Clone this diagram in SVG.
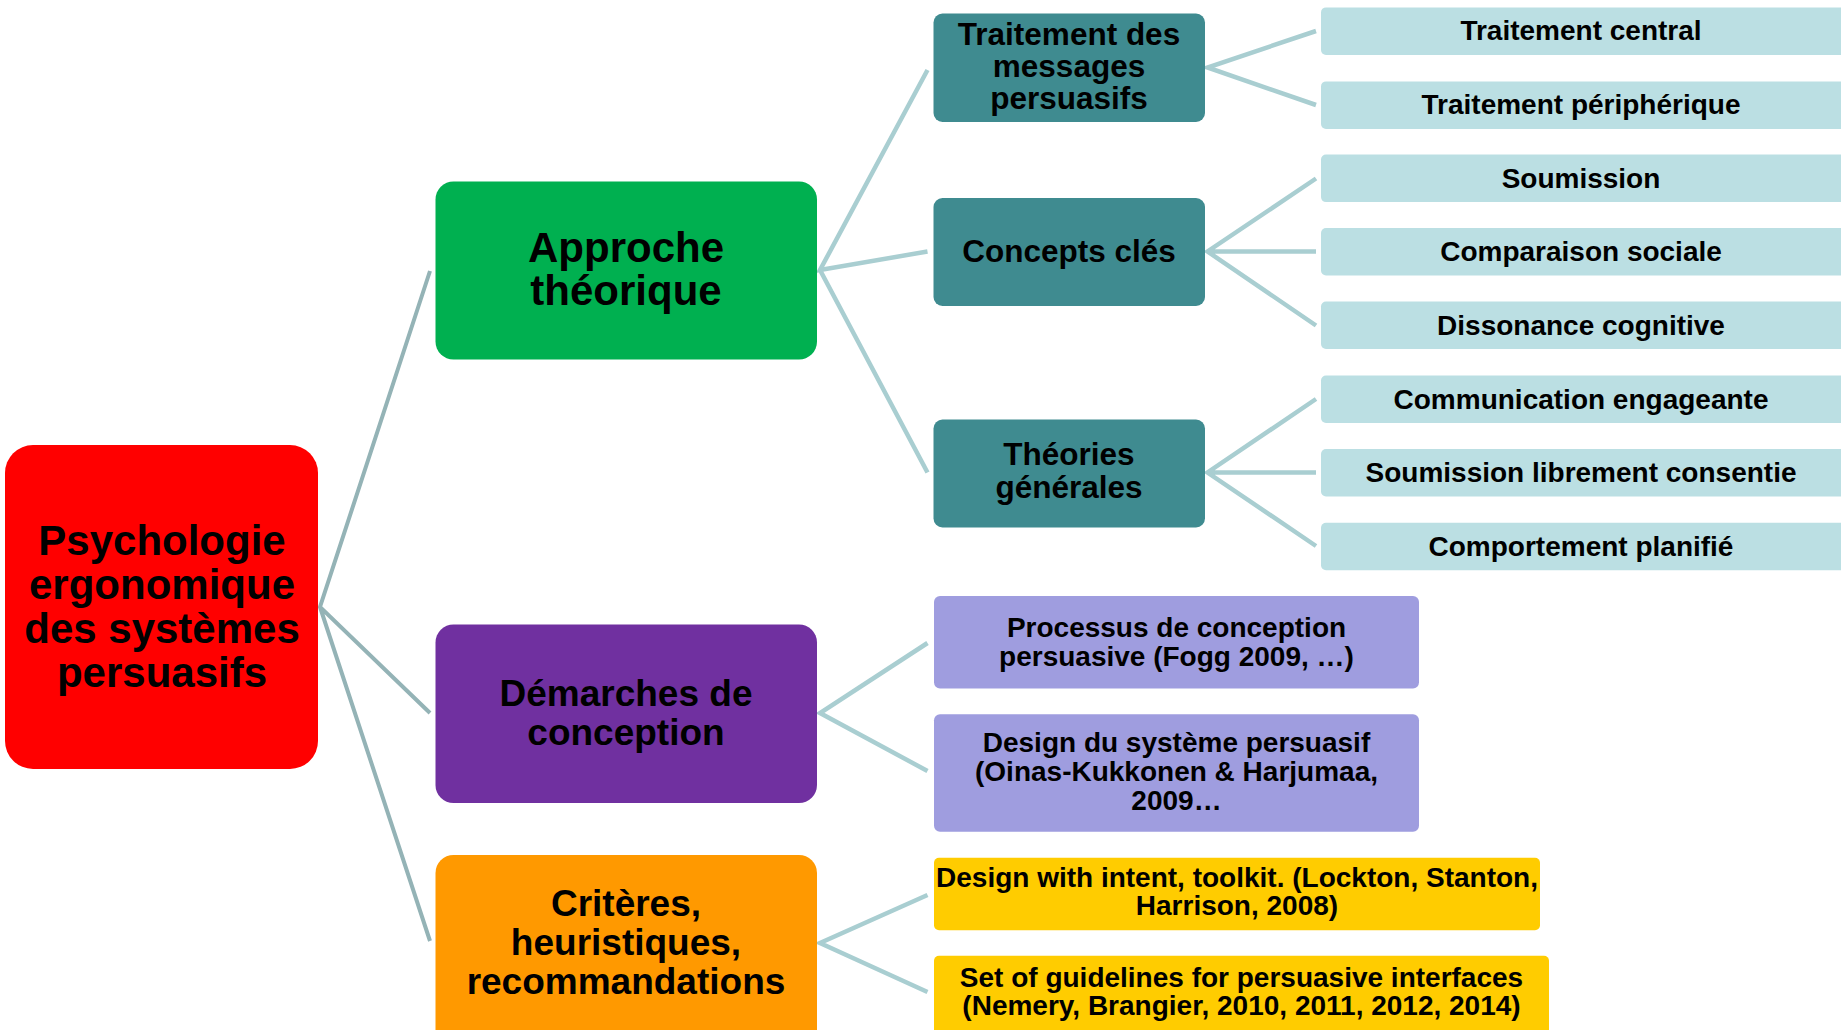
<svg xmlns="http://www.w3.org/2000/svg" width="1841" height="1030" viewBox="0 0 1841 1030">
<style>
text{font-family:"Liberation Sans",Arial,sans-serif;font-weight:bold;fill:#000;text-anchor:middle}
.c1{stroke:#94B3B6;stroke-width:4;fill:none;stroke-linejoin:miter}
.c2{stroke:#A9CED1;stroke-width:4.5;fill:none;stroke-linejoin:miter}
.teal{fill:#3F8B90}
.leaf{fill:#BBDFE3}
.lav{fill:#9F9DDF}
.yel{fill:#FFCC00}
.t42{font-size:42px}
.t37{font-size:37px}
.t31{font-size:31.5px}
.t28{font-size:28px}
</style>
<rect width="1841" height="1030" fill="#fff"/>
<g id="connectors">
<path class="c1" d="M430,271 L320,607 L430,713 M320,607 L430,941"/>
<path class="c2" d="M927.5,70 L820,270 L927.5,251.5 M820,270 L927.5,472.5"/>
<path class="c2" d="M1316,31 L1207.5,67.5 L1316,105"/>
<path class="c2" d="M1316,178.5 L1207.5,251.5 L1316,325.5 M1207.5,251.5 L1316,251.5"/>
<path class="c2" d="M1316,399 L1207.5,472.5 L1316,546 M1207.5,472.5 L1316,472.5"/>
<path class="c2" d="M927.5,643 L820,713 L927.5,771"/>
<path class="c2" d="M927.5,895 L820,943 L927.5,992"/>
</g>
<g id="root">
<rect x="5" y="445" width="313" height="324" rx="28" fill="#FF0000"/>
<text class="t42" x="162" y="555">Psychologie</text>
<text class="t42" x="162" y="599">ergonomique</text>
<text class="t42" x="162" y="643">des systèmes</text>
<text class="t42" x="162" y="687">persuasifs</text>
</g>
<g id="approche">
<rect x="435.5" y="181.5" width="381.5" height="178" rx="18" fill="#00B050"/>
<text class="t42" x="626" y="262">Approche</text>
<text class="t42" x="626" y="305">théorique</text>
</g>
<g id="demarches">
<rect x="435.5" y="624.5" width="381.5" height="178.5" rx="18" fill="#7030A0"/>
<text class="t37" x="626" y="706">Démarches de</text>
<text class="t37" x="626" y="745">conception</text>
</g>
<g id="criteres">
<rect x="435.5" y="855" width="381.5" height="200" rx="18" fill="#FF9900"/>
<text class="t37" x="626" y="916">Critères,</text>
<text class="t37" x="626" y="955">heuristiques,</text>
<text class="t37" x="626" y="994">recommandations</text>
</g>
<g id="traitement">
<rect class="teal" x="933.5" y="13.5" width="271.5" height="108.5" rx="9"/>
<text class="t31" x="1069" y="45">Traitement des</text>
<text class="t31" x="1069" y="77">messages</text>
<text class="t31" x="1069" y="109">persuasifs</text>
</g>
<g id="concepts">
<rect class="teal" x="933.5" y="198" width="271.5" height="108" rx="9"/>
<text class="t31" x="1069" y="262">Concepts clés</text>
</g>
<g id="theories">
<rect class="teal" x="933.5" y="419.5" width="271.5" height="108" rx="9"/>
<text class="t31" x="1069" y="465">Théories</text>
<text class="t31" x="1069" y="498">générales</text>
</g>
<g id="leaf1"><rect class="leaf" x="1321" y="7.4" width="530" height="47.5" rx="5"/><text class="t28" x="1581" y="40">Traitement central</text></g>
<g id="leaf2"><rect class="leaf" x="1321" y="81.4" width="530" height="47.5" rx="5"/><text class="t28" x="1581" y="114">Traitement périphérique</text></g>
<g id="leaf3"><rect class="leaf" x="1321" y="154.6" width="530" height="47.5" rx="5"/><text class="t28" x="1581" y="187.5">Soumission</text></g>
<g id="leaf4"><rect class="leaf" x="1321" y="228" width="530" height="47.5" rx="5"/><text class="t28" x="1581" y="261">Comparaison sociale</text></g>
<g id="leaf5"><rect class="leaf" x="1321" y="301.5" width="530" height="47.5" rx="5"/><text class="t28" x="1581" y="334.5">Dissonance cognitive</text></g>
<g id="leaf6"><rect class="leaf" x="1321" y="375.5" width="530" height="47.5" rx="5"/><text class="t28" x="1581" y="408.5">Communication engageante</text></g>
<g id="leaf7"><rect class="leaf" x="1321" y="449" width="530" height="47.5" rx="5"/><text class="t28" x="1581" y="482">Soumission librement consentie</text></g>
<g id="leaf8"><rect class="leaf" x="1321" y="522.7" width="530" height="47.5" rx="5"/><text class="t28" x="1581" y="555.5">Comportement planifié</text></g>
<g id="processus">
<rect class="lav" x="934" y="596" width="485" height="92.5" rx="6"/>
<text class="t28" x="1176.5" y="637">Processus de conception</text>
<text class="t28" x="1176.5" y="666">persuasive (Fogg 2009, …)</text>
</g>
<g id="design">
<rect class="lav" x="934" y="714.3" width="485" height="117.5" rx="6"/>
<text class="t28" x="1176.5" y="752">Design du système persuasif</text>
<text class="t28" x="1176.5" y="781">(Oinas-Kukkonen &amp; Harjumaa,</text>
<text class="t28" x="1176.5" y="810">2009…</text>
</g>
<g id="intent">
<rect class="yel" x="934" y="857.7" width="606" height="72.5" rx="5"/>
<text class="t28" x="1237" y="887">Design with intent, toolkit. (Lockton, Stanton,</text>
<text class="t28" x="1237" y="915">Harrison, 2008)</text>
</g>
<g id="guidelines">
<rect class="yel" x="934" y="955.7" width="615" height="90" rx="5"/>
<text class="t28" x="1241.5" y="987">Set of guidelines for persuasive interfaces</text>
<text class="t28" x="1241.5" y="1015">(Nemery, Brangier, 2010, 2011, 2012, 2014)</text>
</g>
</svg>
